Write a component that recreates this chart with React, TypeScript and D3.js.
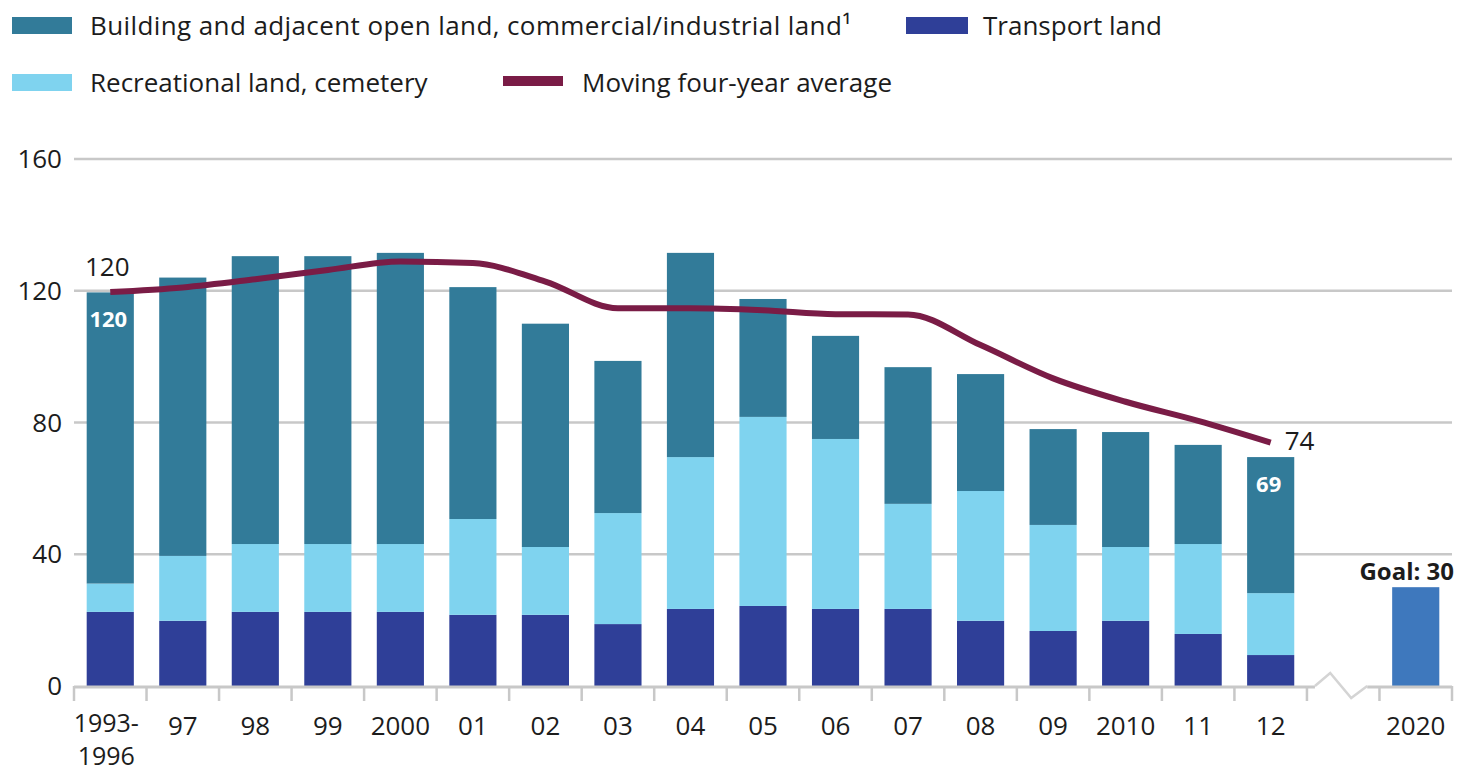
import React, { useEffect } from "react";
import * as d3 from "d3";

const categories = ["1993-1996", "97", "98", "99", "2000", "01", "02", "03", "04", "05", "06", "07", "08", "09", "2010", "11", "12"];
const breakCategory = "break";
const goalCategory = "2020";
const transport = [22.5, 19.8, 22.5, 22.5, 22.5, 21.6, 21.6, 18.8, 23.4, 24.3, 23.4, 23.4, 19.8, 16.7, 19.8, 15.8, 9.4];
const recreational = [8.6, 19.7, 20.6, 20.6, 20.6, 29.1, 20.6, 33.7, 46.1, 57.4, 51.6, 31.9, 39.4, 32.2, 22.4, 27.3, 18.8];
const building = [88.4, 84.5, 87.4, 87.4, 88.4, 70.4, 67.8, 46.2, 62.0, 35.8, 31.3, 41.5, 35.5, 29.1, 34.9, 30.1, 41.3];
const movingAverage = [119.6, 121, 123.5, 126.3, 128.9, 128.4, 122.8, 114.7, 114.7, 114.1, 112.9, 112.8, 103.5, 93.4, 86.3, 80.5, 73.9];
const goalValue = 30;
const barLabels = [{ index: 0, text: "120" }, { index: 16, text: "69" }];
const yTicks = [0, 40, 80, 120, 160];

const seriesKeys = ["transport", "recreational", "building"];
const seriesColors: Record<string, string> = {
  building: "#327b99",
  transport: "#2f3f98",
  recreational: "#7fd3ef",
};
const goalColor = "#3e78bd";
const lineColor = "#7a1c46";
const gridColor = "#c8c8c8";
const textColor = "#1c1c1c";
const FONT = "'Open Sans', sans-serif";

export default function App() {
  useEffect(() => {
    document.body.style.margin = "0";
  }, []);

  const width = 1464;
  const height = 771;
  const allCats = [...categories, breakCategory, goalCategory];
  const x = d3.scaleBand<string>().domain(allCats).range([74, 1452]).paddingInner(0.35).paddingOuter(0.175);
  const y = d3.scaleLinear().domain([0, 160]).range([686, 159]);
  const step = x.step();
  const bw = x.bandwidth();

  const rows = categories.map((c, i) => ({
    cat: c,
    transport: transport[i],
    recreational: recreational[i],
    building: building[i],
  }));
  const stacked = d3.stack<any>().keys(seriesKeys)(rows);

  const cx = (c: string) => (x(c) as number) + bw / 2;
  const line = d3
    .line<number>()
    .x((_, i) => cx(categories[i]))
    .y((d) => y(d))
    .curve(d3.curveMonotoneX);

  const boundaries = d3.range(allCats.length + 1).map((i) => 74 + i * step);
  const breakStart = boundaries[categories.length];
  const bcx = cx(breakCategory);
  const y0 = y(0);
  const zig = [
    [breakStart + 8, y0],
    [bcx - 13, y0 - 13],
    [bcx + 8, y0 + 12],
    [bcx + 24, y0],
  ];

  const fmt = d3.format(".0f");
  const last = movingAverage.length - 1;

  return (
    <svg width={width} height={height} style={{ display: "block", fontFamily: FONT }}>
      <rect width={width} height={height} fill="#fff" />
      {/* Legend */}
      <g fontSize={26} fill={textColor}>
        <rect x={12} y={17} width={60} height={17} fill={seriesColors.building} />
        <text x={90} y={35} letterSpacing={0.4}>Building and adjacent open land, commercial/industrial land¹</text>
        <rect x={906} y={17} width={62} height={17} fill={seriesColors.transport} />
        <text x={983} y={35}>Transport land</text>
        <rect x={12} y={74} width={60} height={17} fill={seriesColors.recreational} />
        <text x={90} y={92}>Recreational land, cemetery</text>
        <rect x={503} y={76} width={60} height={10} fill={lineColor} />
        <text x={582} y={92}>Moving four-year average</text>
      </g>
      {/* Gridlines */}
      {yTicks.filter((t) => t > 0).map((t) => (
        <line key={t} x1={74} x2={1452} y1={y(t)} y2={y(t)} stroke={gridColor} strokeWidth={2.5} />
      ))}
      {yTicks.map((t) => (
        <text key={"yl" + t} x={62} y={y(t)} dy="0.35em" textAnchor="end" fontSize={26} fill={textColor}>
          {t}
        </text>
      ))}
      {/* Bars */}
      {stacked.map((s) => (
        <g key={s.key} fill={seriesColors[s.key]}>
          {s.map((d, i) => (
            <rect key={i} x={x(categories[i])} width={bw} y={y(d[1])} height={y(d[0]) - y(d[1])} />
          ))}
        </g>
      ))}
      <rect x={x(goalCategory)} width={bw} y={y(goalValue)} height={y(0) - y(goalValue)} fill={goalColor} />
      {/* Axis */}
      <line x1={74} x2={breakStart + 8} y1={y0 + 1} y2={y0 + 1} stroke={gridColor} strokeWidth={3} />
      <line x1={bcx + 24} x2={1452} y1={y0 + 1} y2={y0 + 1} stroke={gridColor} strokeWidth={3} />
      <polyline points={zig.map((p) => p.join(",")).join(" ")} fill="none" stroke="#d4d4d4" strokeWidth={2.5} />
      {boundaries.map((b, i) => (
        <line key={"t" + i} x1={b} x2={b} y1={y0} y2={y0 + 15} stroke={gridColor} strokeWidth={2.5} />
      ))}
      {/* X labels */}
      {[...categories, goalCategory].map((c) => {
        if (c.includes("-")) {
          const [a, b] = c.split("-");
          const lx = cx(c) - 4;
          return (
            <g key={"xl" + c} fontSize={25} fill={textColor} textAnchor="middle">
              <text x={lx} y={732}>{a + "-"}</text>
              <text x={lx} y={765}>{b}</text>
            </g>
          );
        }
        return (
          <text key={"xl" + c} x={cx(c)} y={735} textAnchor="middle" fontSize={26} fill={textColor}>
            {c}
          </text>
        );
      })}
      {/* Moving average line */}
      <path d={line(movingAverage) || ""} fill="none" stroke={lineColor} strokeWidth={6} strokeLinejoin="round" />
      {/* Annotations */}
      <text x={cx(categories[0]) - 3} y={y(movingAverage[0]) - 16} textAnchor="middle" fontSize={26} fill={textColor}>
        {fmt(movingAverage[0])}
      </text>
      <text x={cx(categories[last]) + 14} y={y(movingAverage[last])} dy="0.3em" fontSize={26} fill={textColor}>
        {fmt(movingAverage[last])}
      </text>
      {barLabels.map((l) => {
        const top = transport[l.index] + recreational[l.index] + building[l.index];
        return (
          <text key={"bl" + l.index} x={cx(categories[l.index]) - 2} y={y(top) + 27} dy="0.35em" textAnchor="middle" fontSize={22} fontWeight="bold" fill="#fff">
            {l.text}
          </text>
        );
      })}
      <text x={cx(goalCategory) - 9} y={y(goalValue) - 7} textAnchor="middle" fontSize={24} fontWeight="bold" fill={textColor}>
        Goal: {goalValue}
      </text>
    </svg>
  );
}
